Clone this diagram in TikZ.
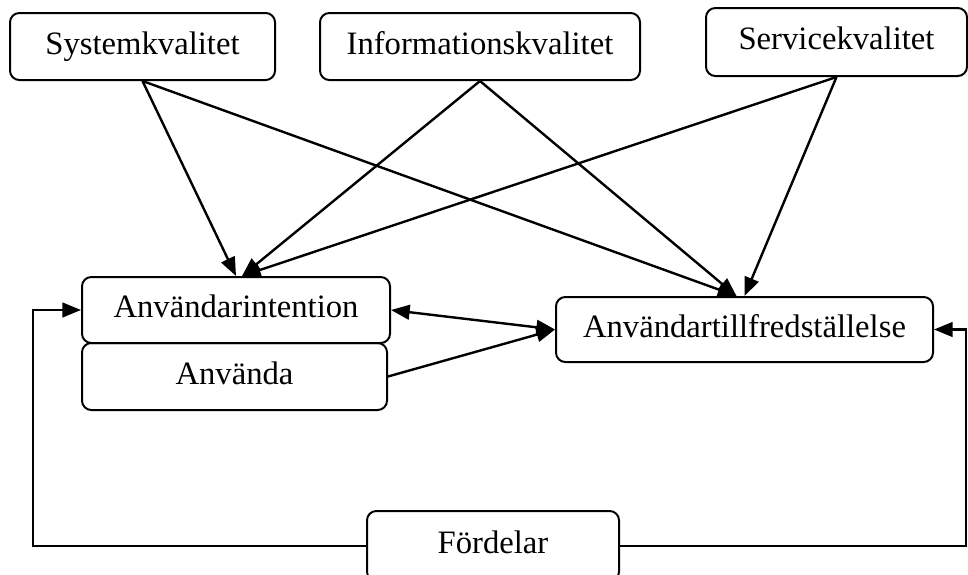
\documentclass[tikz,border=0pt]{standalone}
\usepackage{fontspec}
\setmainfont{Liberation Serif}
\usetikzlibrary{arrows.meta,calc}
\begin{document}
\begin{tikzpicture}[x=0.75pt,y=-0.75pt,
  box/.style={draw,line width=1.5pt,rounded corners=7pt,anchor=north west,
    inner sep=0pt,text height=18pt,text depth=6.5pt,
    font=\fontsize{24.5}{28}\selectfont},
  tip/.tip={Triangle[length=14pt,width=11pt]},
  arr/.style={line width=1.8pt,-tip}]
\clip (0,0) rectangle (968,575);

% quality factors
\node[box,minimum width=265*0.75pt,minimum height=67*0.75pt] (sk) at (9,12) {Systemkvalitet};
\node[box,minimum width=320*0.75pt,minimum height=67*0.75pt] (ik) at (319,12) {Informationskvalitet};
\node[box,minimum width=261*0.75pt,minimum height=68*0.75pt] (sv) at (705,7) {Servicekvalitet};

% use and satisfaction
\node[box,minimum width=308*0.75pt,minimum height=66*0.75pt] (ai) at (81,276) {Användarintention};
\node[box,minimum width=305*0.75pt,minimum height=67*0.75pt] (au) at (81,342) {Använda};
\node[box,minimum width=377*0.75pt,minimum height=65*0.75pt] (at) at (555,296) {Användartillfredställelse};

% net benefits
\node[box,minimum width=252*0.75pt,minimum height=70*0.75pt] (fd) at (366,510) {Fördelar};

% arrow targets on the upper edges
\coordinate (aiR) at ($(ai.north)+(6,0)$);
\coordinate (atL) at ($(at.north)+(-8,0)$);
\coordinate (loopL) at (33,0);
\coordinate (loopR) at (966,0);

\draw[arr] (sk.south) -- (ai.north);
\draw[arr] (sk.south) -- (atL);
\draw[arr] (ik.south) -- (aiR);
\draw[arr] (ik.south) -- (atL);
\draw[arr] (sv.south) -- (aiR);
\draw[arr] (sv.south) -- (at.north);

\draw[arr,tip-tip] (ai.east) -- (at.west);
\draw[arr] (au.east) -- (at.west);

% feedback from benefits
\draw[arr] (fd.west) -- (fd.west -| loopL) -- (ai.west -| loopL) -- (ai.west);
\draw[arr] (fd.east) -- (fd.east -| loopR) -- (at.east -| loopR) -- (at.east);
\end{tikzpicture}
\end{document}
